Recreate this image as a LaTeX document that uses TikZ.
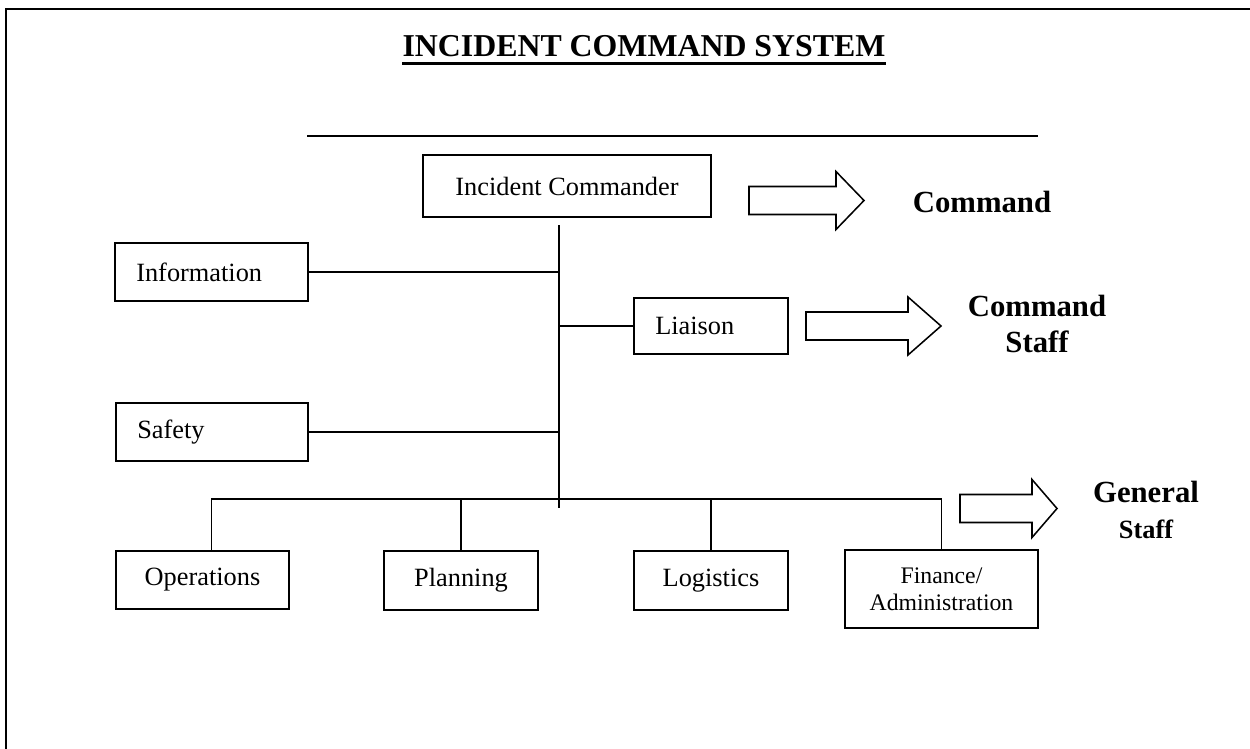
\documentclass[tikz,border=0pt]{standalone}
\usepackage{fontspec}
\setmainfont{Liberation Serif}
\usetikzlibrary{positioning,calc}

% x, y of the tail middle, body length, head length
\newcommand{\blockarrow}[4]{%
  \draw[bigarrow] (#1,#2) ++(0,-14) -- ++(#3,0) -- ++(0,-15) -- ++(#4,29)
    -- ++(-#4,29) -- ++(0,-15) -- ++(-#3,0) -- cycle;}

\tikzset{
  box/.style={draw, rectangle, line width=0.7pt, inner sep=0pt, font=\fontsize{12}{14}\selectfont},
  leftbox/.style={box, align=left, inner xsep=0.34cm},
  link/.style={line width=0.5pt},
  bigarrow/.style={line width=0.7pt, fill=white},
  staff/.style={font=\fontsize{14}{16}\selectfont\bfseries, align=center, inner sep=0pt}
}

\begin{document}
\begin{tikzpicture}[x=0.016cm, y=-0.016cm]
    \useasboundingbox (0,0) rectangle (1250,749);
    \draw[line width=0.9pt] (6,749) -- (6,9) -- (1250,9);

    % title
    \node[font=\fontsize{14.5}{17}\selectfont\bfseries, inner sep=0pt, anchor=base] (title) at (644,57) {INCIDENT COMMAND SYSTEM};
    \draw[line width=1.4pt] ([yshift=-3pt]title.base west) -- ([yshift=-3pt]title.base east);
    \draw[line width=0.8pt] (307,136) -- (1038,136);

    % boxes
    \node[box, minimum width=4.608cm, minimum height=0.992cm] (ic) at (567,186) {Incident Commander};
    \node[leftbox, text width=2.408cm, minimum height=0.928cm] (info) at (211.5,272) {Information};
    \node[leftbox, text width=1.784cm, minimum height=0.896cm] (liaison) at (711,326) {Liaison};
    \node[leftbox, text width=2.392cm, minimum height=0.928cm] (safety) at (212,432) {Safety};
    \node[box, minimum width=2.768cm, minimum height=0.928cm] (ops) at (202.5,580) {Operations};
    \node[box, minimum width=2.464cm, minimum height=0.944cm] (plan) at (461,580.5) {Planning};
    \node[box, minimum width=2.464cm, minimum height=0.944cm] (logi) at (711,580.5) {Logistics};
    \node[box, minimum width=3.088cm, minimum height=1.248cm, align=center,
          font=\fontsize{10.8}{12.2}\selectfont] (fin) at (941.5,589) {Finance/\\Administration};

    % connecting lines
    \coordinate (trunk top) at (559,225);
    \coordinate (trunk end) at (559,508);
    \coordinate (bus) at (559,499);
    \draw[link] (trunk top) -- (trunk end);
    \draw[link] (info.east) -- (info.east -| trunk top);
    \draw[link] (liaison.west) -- (liaison.west -| trunk top);
    \draw[link] (safety.east) -- (safety.east -| trunk top);
    \draw[link] ([xshift=4.3pt]ops.north) |- (bus) -| (fin.north);
    \foreach \n in {plan,logi}
        \draw[link] (\n.north) -- (\n.north |- bus);

    % block arrows and levels
    \blockarrow{749}{200.5}{87}{28}
    \blockarrow{806}{326}{102}{33}
    \blockarrow{960}{508.5}{72}{25}
    \node[staff, anchor=base] (cmd) at (982,212) {Command};
    \node[staff] (cmdstaff) at (1037,324) {Command\\Staff};
    \node[staff] (genstaff) at (1146,510) {General\\{\fontsize{12}{14}\selectfont Staff}};
\end{tikzpicture}
\end{document}
